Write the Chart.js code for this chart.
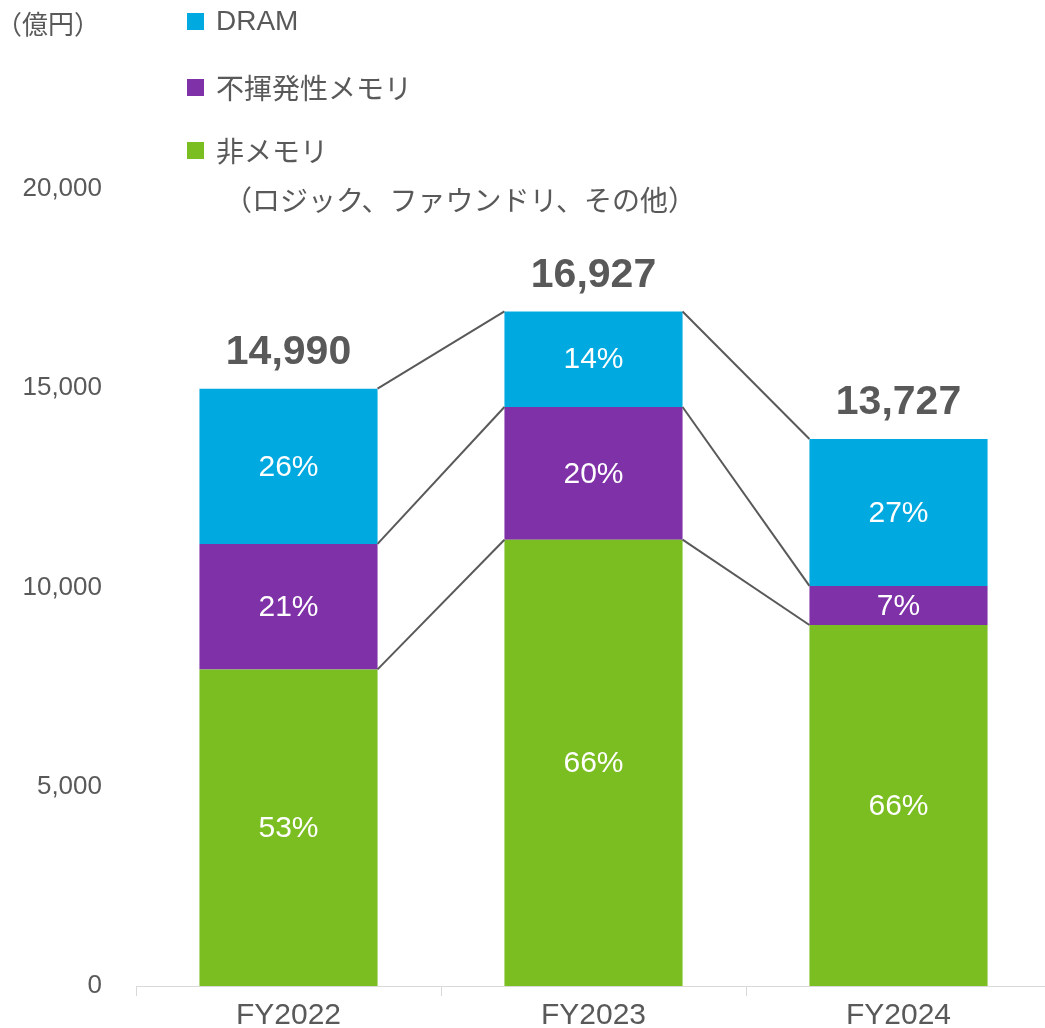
<!DOCTYPE html>
<html>
<head>
<meta charset="utf-8">
<script src="https://cdn.jsdelivr.net/npm/chart.js@4.4.1/dist/chart.umd.min.js"></script>
<style>
html,body{margin:0;padding:0;background:#fff;overflow:hidden;}
#wrap{width:1045px;height:1028px;position:relative;overflow:hidden;}
canvas{display:block;}
</style>
</head>
<body>
<div id="wrap"><canvas id="c" width="1051" height="1028"></canvas></div>
<script>
const categories = ['FY2022', 'FY2023', 'FY2024'];
const nonMemory = [7945, 11200, 9060];
const nonVolatile = [3148, 3330, 979];
const dram = [3897, 2397, 3688];
const totals = [14990, 16927, 13727];
const pctNonMemory = ['53%', '66%', '66%'];
const pctNonVolatile = ['21%', '20%', '7%'];
const pctDram = ['26%', '14%', '27%'];
const yTicks = [0, 5000, 10000, 15000, 20000];
const legendNames = ['DRAM', '不揮発性メモリ', '非メモリ'];
const legendSub = '（ロジック、ファウンドリ、その他）';
const unitLabel = '（億円）';

const COL_DRAM = '#00A9E0';
const COL_NV = '#7F31A8';
const COL_NM = '#7BBE22';
const GRAY = '#595959';
const LATIN = '"Liberation Sans", Arial, sans-serif';
const CJK = '"Noto Sans CJK JP", "Liberation Sans", sans-serif';

const pctLabels = [pctNonMemory, pctNonVolatile, pctDram];

const overlay = {
  id: 'overlay',
  afterDatasetsDraw(chart) {
    const ctx = chart.ctx;
    const n = chart.data.datasets.length;
    ctx.save();
    ctx.strokeStyle = GRAY;
    ctx.lineWidth = 2;
    for (let k = 0; k < n; k++) {
      const els = chart.getDatasetMeta(k).data;
      for (let i = 0; i < els.length - 1; i++) {
        const a = els[i], b = els[i + 1];
        ctx.beginPath();
        ctx.moveTo(a.x + a.width / 2, a.y);
        ctx.lineTo(b.x - b.width / 2, b.y);
        ctx.stroke();
      }
    }
    ctx.restore();
    ctx.save();
    ctx.fillStyle = '#FFFFFF';
    ctx.font = '30px ' + LATIN;
    ctx.textAlign = 'center';
    ctx.textBaseline = 'middle';
    for (let k = 0; k < n; k++) {
      const els = chart.getDatasetMeta(k).data;
      els.forEach((el, i) => {
        ctx.fillText(pctLabels[k][i], el.x, (el.y + el.base) / 2 + 1);
      });
    }
    ctx.fillStyle = GRAY;
    ctx.font = 'bold 41px ' + LATIN;
    const topEls = chart.getDatasetMeta(n - 1).data;
    topEls.forEach((el, i) => {
      ctx.fillText(totals[i].toLocaleString('en-US'), el.x, el.y - 36);
    });
    ctx.restore();
    ctx.save();
    ctx.textBaseline = 'middle';
    const cols = [COL_DRAM, COL_NV, COL_NM];
    const ys = [21.5, 87.5, 150.5];
    for (let j = 0; j < 3; j++) {
      ctx.fillStyle = cols[j];
      ctx.fillRect(187, ys[j] - 8.5, 17, 17);
      ctx.fillStyle = GRAY;
      ctx.textAlign = 'left';
      ctx.font = '28px ' + (j === 0 ? LATIN : CJK);
      ctx.fillText(legendNames[j], 216, ys[j] + 1);
    }
    ctx.font = '28px ' + CJK;
    ctx.textAlign = 'center';
    ctx.fillText(legendSub, 460, 200);
    ctx.font = '26px ' + CJK;
    ctx.fillText(unitLabel, 48, 24);
    ctx.restore();
  }
};

new Chart(document.getElementById('c'), {
  type: 'bar',
  data: {
    labels: categories,
    datasets: [
      { label: '非メモリ', data: nonMemory, backgroundColor: COL_NM },
      { label: '不揮発性メモリ', data: nonVolatile, backgroundColor: COL_NV },
      { label: 'DRAM', data: dram, backgroundColor: COL_DRAM }
    ]
  },
  options: {
    responsive: false,
    animation: false,
    devicePixelRatio: 1,
    layout: { padding: { top: 189, left: 0, right: 0, bottom: 0 } },
    datasets: { bar: { barPercentage: 0.584, categoryPercentage: 1.0, borderWidth: 0 } },
    plugins: { legend: { display: false }, tooltip: { enabled: false } },
    scales: {
      x: {
        stacked: true,
        grid: { display: true, drawOnChartArea: false, drawTicks: true, tickLength: 10, color: '#D9D9D9', offset: true },
        border: { display: true, color: '#D9D9D9', width: 1 },
        ticks: { font: { family: LATIN, size: 30 }, color: GRAY, padding: 2 },
        afterFit(s) { s.height = 42; s.paddingLeft = 0; s.paddingRight = 0; }
      },
      y: {
        stacked: true,
        min: 0, max: 20000,
        afterBuildTicks(s) { s.ticks = yTicks.map(v => ({ value: v })); },
        grid: { display: false, drawTicks: false },
        border: { display: false },
        ticks: {
          font: { family: LATIN, size: 26 }, color: GRAY, padding: 34,
          callback: v => v.toLocaleString('en-US')
        },
        afterFit(s) { s.width = 136; s.paddingTop = 0; s.paddingBottom = 0; }
      }
    }
  },
  plugins: [overlay]
});
</script>
</body>
</html>
